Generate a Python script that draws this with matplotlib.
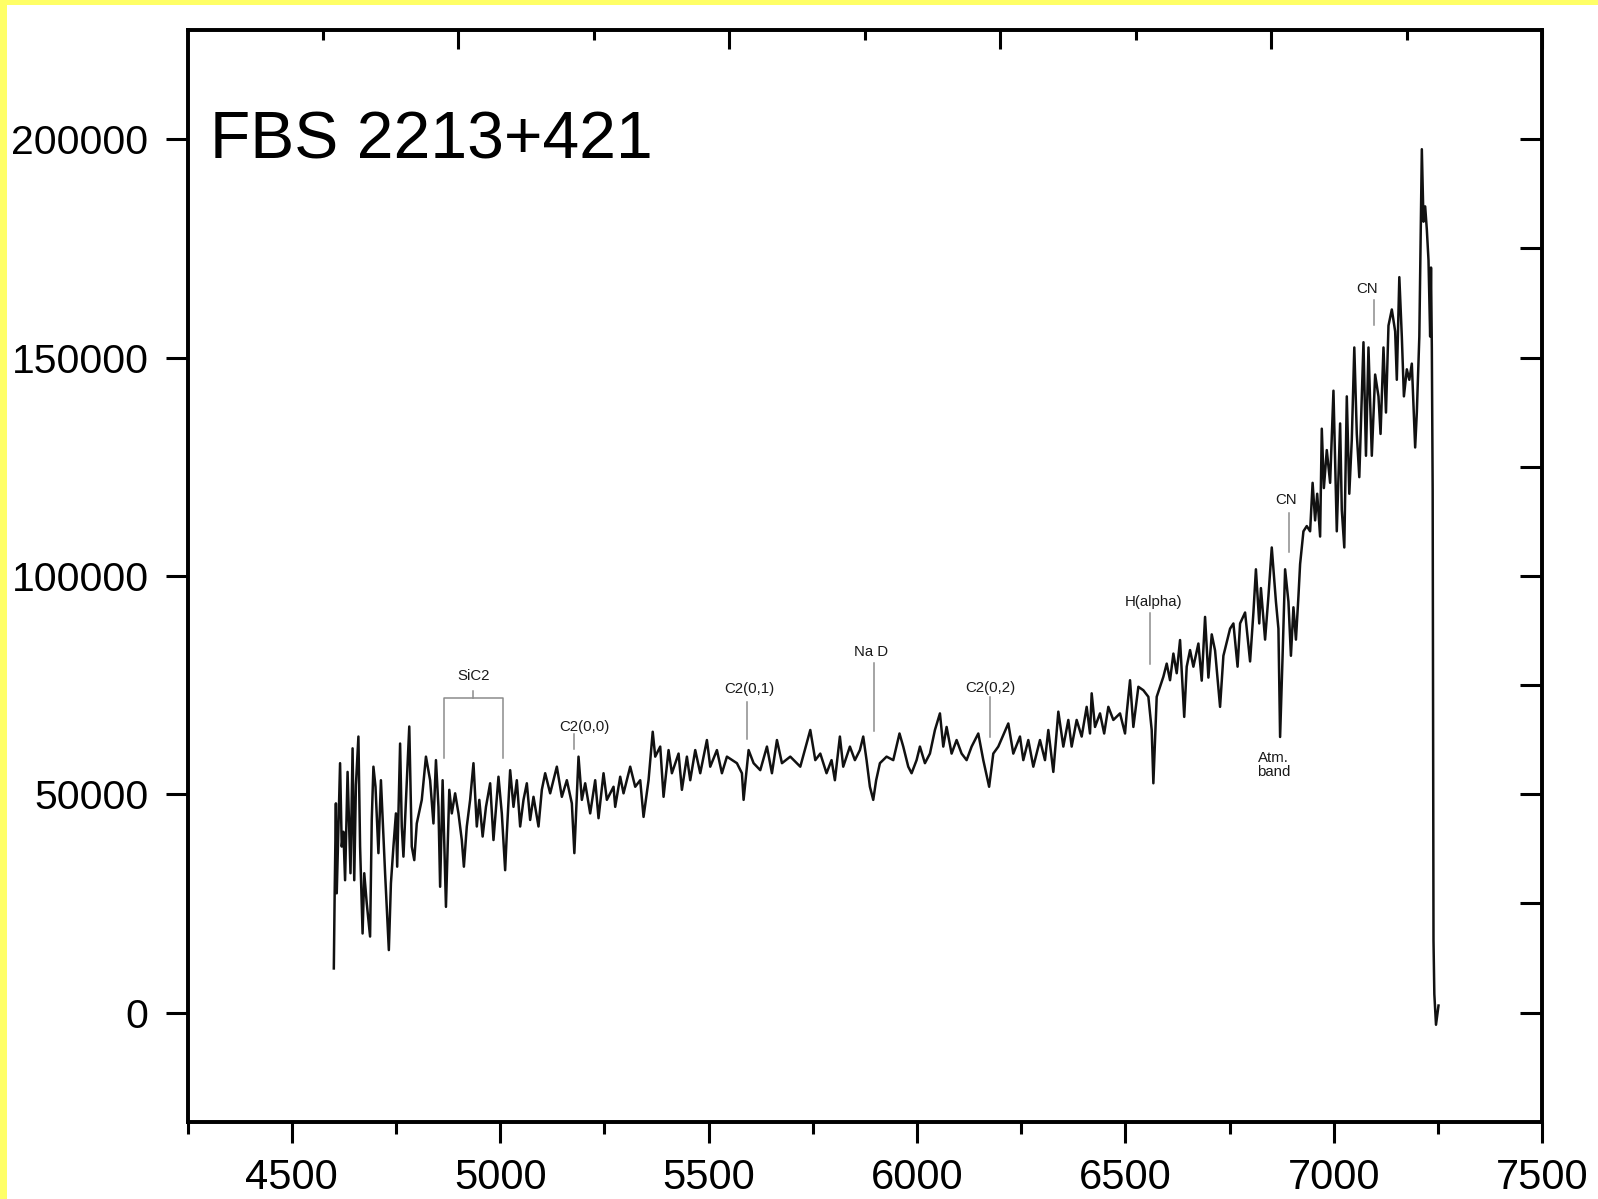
import matplotlib
matplotlib.use('Agg')
import matplotlib.pyplot as plt
from matplotlib.patches import Rectangle
from matplotlib.ticker import FixedLocator, NullFormatter

# spectrum (wavelength in A, flux in counts)
wave = [4601, 4603, 4606, 4608, 4616, 4620, 4624, 4628, 4634, 4641, 4646, 4650, 4654, 4660,
        4664, 4670, 4674, 4680, 4688, 4692, 4696, 4701, 4708, 4714, 4724, 4733, 4738, 4744,
        4750, 4753, 4760, 4764, 4768, 4782, 4788, 4794, 4800, 4812, 4822, 4832, 4840, 4846,
        4852, 4856, 4862, 4870, 4878, 4884, 4892, 4900, 4908, 4913, 4920, 4928, 4936, 4944,
        4950, 4958, 4966, 4976, 4984, 4996, 5004, 5012, 5016, 5024, 5032, 5040, 5048, 5056,
        5064, 5072, 5080, 5092, 5100, 5108, 5120, 5136, 5148, 5160, 5172, 5178, 5188, 5196,
        5204, 5216, 5228, 5236, 5248, 5256, 5272, 5276, 5288, 5296, 5312, 5324, 5336, 5344,
        5356, 5366, 5372, 5384, 5392, 5404, 5412, 5428, 5436, 5448, 5456, 5468, 5480, 5496,
        5504, 5520, 5532, 5544, 5568, 5580, 5584, 5596, 5608, 5624, 5640, 5652, 5664, 5676,
        5696, 5720, 5744, 5756, 5768, 5783, 5795, 5803, 5815, 5823, 5839, 5851, 5863, 5871,
        5879, 5887, 5895, 5902, 5911, 5927, 5943, 5958, 5967, 5979, 5987, 5999, 6007, 6019,
        6031, 6043, 6055, 6063, 6071, 6083, 6095, 6107, 6119, 6131, 6147, 6159, 6173, 6183,
        6195, 6219, 6231, 6247, 6255, 6267, 6279, 6295, 6307, 6315, 6327, 6339, 6351, 6363,
        6371, 6383, 6395, 6407, 6415, 6419, 6427, 6439, 6449, 6459, 6471, 6487, 6499, 6503,
        6511, 6519, 6531, 6543, 6555, 6563, 6567, 6575, 6583, 6591, 6599, 6607, 6615, 6623,
        6631, 6641, 6647, 6655, 6663, 6675, 6683, 6691, 6699, 6707, 6715, 6727, 6735, 6751,
        6759, 6769, 6775, 6787, 6799, 6807, 6813, 6821, 6825, 6835, 6843, 6851, 6861, 6867,
        6871, 6877, 6883, 6891, 6897, 6903, 6909, 6915, 6919, 6927, 6935, 6943, 6949, 6955,
        6960, 6967, 6971, 6976, 6983, 6991, 6999, 7007, 7015, 7019, 7025, 7031, 7037, 7043,
        7049, 7055, 7061, 7071, 7077, 7083, 7091, 7099, 7107, 7112, 7119, 7125, 7131, 7139,
        7147, 7151, 7157, 7163, 7168, 7175, 7181, 7187, 7195, 7199, 7205, 7211, 7215, 7219,
        7223, 7227, 7231, 7233, 7235, 7237, 7239, 7241, 7245, 7251]
flux = [10100, 27000, 47900, 27300, 57100, 38000, 41400, 30300, 55100, 31900, 60500, 30300, 52100, 63200,
        38000, 18100, 31900, 25000, 17400, 44100, 56300, 51700, 36500, 53200, 31900, 14300, 29600, 38000,
        45600, 33400, 61600, 42600, 35700, 65500, 38000, 34900, 43300, 48700, 58600, 53200, 43300, 57800,
        47100, 28800, 53200, 24200, 51000, 45600, 50200, 45600, 39500, 33400, 42600, 48700, 57100, 42600,
        48700, 40300, 47100, 52500, 39500, 54000, 45600, 32600, 41000, 55500, 47100, 53200, 42600, 48700,
        52500, 44100, 49400, 42600, 51000, 54800, 50200, 56300, 49400, 53200, 47900, 36500, 58600, 48700,
        52500, 45600, 53200, 44500, 54800, 48700, 51700, 47100, 54000, 50200, 56300, 51700, 53200, 44800,
        53200, 64300, 58600, 60900, 49400, 60100, 54800, 59300, 51000, 58600, 53200, 60100, 54800, 62400,
        56300, 60100, 54800, 58600, 57100, 54800, 48700, 60100, 57100, 55500, 60900, 54800, 62400, 57100,
        58600, 56300, 64700, 57800, 59300, 54800, 57800, 53200, 63200, 56300, 60900, 57800, 60100, 63200,
        57800, 51700, 48700, 53200, 57100, 58600, 57800, 63900, 60900, 56300, 54800, 57800, 60900, 57100,
        59300, 64700, 68500, 60900, 65400, 59300, 62400, 59300, 57800, 60900, 63900, 57800, 51700, 59300,
        60900, 66200, 59300, 63200, 57800, 62400, 56300, 62400, 57800, 64700, 55100, 68900, 60900, 67000,
        60900, 67000, 63200, 70000, 63900, 73100, 65400, 68500, 63900, 70000, 67000, 68500, 63900, 68500,
        76100, 65400, 74600, 73800, 72300, 64700, 52500, 72300, 74600, 76900, 79900, 76100, 82200, 77700,
        85300, 67700, 79200, 83000, 79200, 84500, 76000, 90600, 76700, 86600, 82900, 70000, 81700, 87900,
        89100, 79200, 89100, 91600, 80400, 91600, 101500, 89100, 97200, 85400, 95300, 106500, 94100, 87900,
        63100, 81700, 101500, 94100, 81700, 92800, 85400, 95300, 102700, 110200, 111400, 110200, 121300, 112700,
        118800, 109000, 133700, 120100, 128800, 121300, 142400, 110200, 134900, 115100, 106500, 141100, 118800, 131200,
        152300, 132500, 122600, 153500, 127500, 152300, 127500, 146100, 141100, 132500, 152300, 137400, 157300, 161000,
        156000, 144900, 168400, 154800, 141100, 147300, 144900, 148600, 129400, 137400, 154800, 197700, 181100, 184600,
        179300, 172300, 154800, 170600, 152200, 119800, 16500, 4200, -2800, 1600]

# line identifications: label, marker x, marker top/bottom, label centre
line_labels = ['C2(0,0)', 'C2(0,1)', 'Na D', 'C2(0,2)', 'H(alpha)', 'CN', 'CN']
line_x = [5177, 5593, 5897, 6176, 6559, 6892, 7096]
line_top = [63700, 71100, 80100, 72300, 91400, 114400, 163200]
line_bottom = [60300, 62600, 64500, 63000, 79900, 105500, 157400]
label_x = [5202, 5598, 5890, 6176, 6567, 6885, 7079]
label_y = [65400, 74000, 82600, 74400, 94100, 117400, 165600]

# SiC2 bracket
sic2_x = [4865, 5006]
sic2_y = [58400, 72100]

fig = plt.figure(figsize=(15.98, 11.99), dpi=100)
fig.patch.set_facecolor('white')
ax = fig.add_axes([187.5 / 1598, 1 - 1121.7 / 1199, (1542.3 - 187.5) / 1598, (1121.7 - 30) / 1199])

ax.plot(wave, flux, color='#111111', lw=1.8)

ax.set_xlim(4250, 7500)
ax.set_ylim(-25000, 225000)

grey = '#8c8c8c'
txt = '#1a1a1a'
for lab, x, y0, y1, tx, ty in zip(line_labels, line_x, line_bottom, line_top, label_x, label_y):
    ax.plot([x, x], [y0, y1], color=grey, lw=1.1)
    ax.text(tx, ty, lab, ha='center', va='center', fontsize=10.8, color=txt,
            family='Liberation Sans')

# SiC2 bracket
sic2_mid = (sic2_x[0] + sic2_x[1]) / 2
ax.plot([sic2_x[0], sic2_x[0], sic2_x[1], sic2_x[1]],
        [sic2_y[0], sic2_y[1], sic2_y[1], sic2_y[0]], color=grey, lw=1.1)
ax.plot([sic2_mid, sic2_mid], [sic2_y[1], 73700], color=grey, lw=1.1)
ax.text(sic2_mid, 77100, 'SiC2', ha='center', va='center', fontsize=10.8, color=txt,
        family='Liberation Sans')

ax.text(6855, 56700, 'Atm.\nband', ha='center', va='center', fontsize=10.8, color=txt,
        family='Liberation Sans', linespacing=1.0)

# axes styling
for s in ax.spines.values():
    s.set_linewidth(2.6)

ax.xaxis.set_major_locator(FixedLocator([4500, 5000, 5500, 6000, 6500, 7000, 7500]))
ax.xaxis.set_minor_locator(FixedLocator([4250, 4750, 5250, 5750, 6250, 6750, 7250]))
ax.yaxis.set_major_locator(FixedLocator([0, 50000, 100000, 150000, 200000]))
ax.set_xticklabels(['4500', '5000', '5500', '6000', '6500', '7000', '7500'])
ax.set_yticklabels(['0', '50000', '100000', '150000', '200000'])
ax.tick_params(axis='x', which='major', direction='out', length=15, width=2.2, pad=11,
               labelsize=30, top=False)
ax.tick_params(axis='x', which='minor', direction='out', length=8.5, width=2.2, top=False)
ax.tick_params(axis='y', which='major', direction='out', length=16, width=2.2, pad=12,
               labelsize=29.5, right=False)
for lab in ax.get_xticklabels() + ax.get_yticklabels():
    lab.set_family('Liberation Sans')

# top axis: ticks every 325 A, inward
axt = ax.twiny()
axt.set_xlim(4250, 7500)
axt.xaxis.set_major_locator(FixedLocator([4900, 5550, 6200, 6850, 7500]))
axt.xaxis.set_minor_locator(FixedLocator([4575, 5225, 5875, 6525, 7175]))
axt.xaxis.set_major_formatter(NullFormatter())
axt.tick_params(axis='x', which='major', direction='in', length=14, width=2.2)
axt.tick_params(axis='x', which='minor', direction='in', length=7.5, width=2.2)
for s in axt.spines.values():
    s.set_linewidth(2.6)

# right axis: ticks every 25000, inward
axr = ax.twinx()
axr.set_ylim(-25000, 225000)
axr.yaxis.set_major_locator(FixedLocator([0, 25000, 50000, 75000, 100000, 125000, 150000, 175000, 200000]))
axr.yaxis.set_major_formatter(NullFormatter())
axr.tick_params(axis='y', direction='in', length=16, width=2.2)

fig.text(210 / 1598, 1 - 158.3 / 1199, 'FBS 2213+421', fontsize=47.5, family='Liberation Sans',
         ha='left', va='baseline')

# yellow frame strips at top and left edges
fig.patches.append(Rectangle((0, 1 - 5 / 1199), 1, 5 / 1199, transform=fig.transFigure,
                             facecolor='#ffff66', edgecolor='none', zorder=10))
fig.patches.append(Rectangle((0, 0), 7 / 1598, 1, transform=fig.transFigure,
                             facecolor='#ffff66', edgecolor='none', zorder=10))

fig.savefig('out.png', dpi=100)
